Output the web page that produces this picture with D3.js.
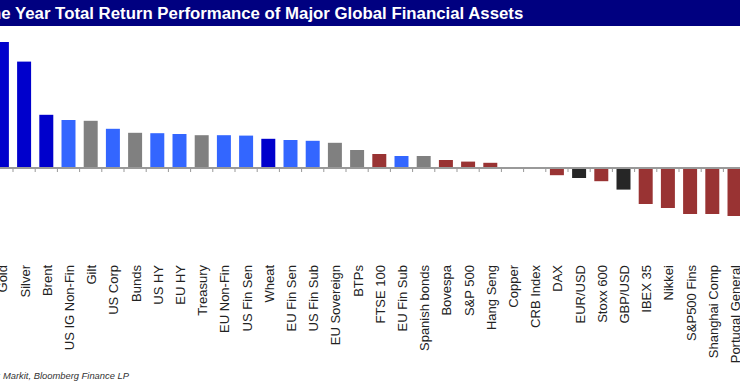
<!DOCTYPE html>
<html>
<head>
<meta charset="utf-8">
<title>One Year Total Return Performance</title>
<script src="https://d3js.org/d3.v7.min.js"></script>
<style>
  body { margin: 0; background: #fff; }
  svg { display: block; font-family: "Liberation Sans", Arial, sans-serif; }
</style>
</head>
<body>
<div id="chart"></div>
<script>
// asset names, left to right
var assets = ["Gold", "Silver", "Brent", "US IG Non-Fin", "Gilt", "US Corp", "Bunds", "US HY",
  "EU HY", "Treasury", "EU Non-Fin", "US Fin Sen", "Wheat", "EU Fin Sen", "US Fin Sub",
  "EU Sovereign", "BTPs", "FTSE 100", "EU Fin Sub", "Spanish bonds", "Bovespa", "S&P 500",
  "Hang Seng", "Copper", "CRB Index", "DAX", "EUR/USD", "Stoxx 600", "GBP/USD", "IBEX 35",
  "Nikkei", "S&P500 Fins", "Shanghai Comp", "Portugal General"];

// one year total return, %
var returns = [31.5, 26.6, 13.3, 12.0, 11.8, 9.8, 8.8, 8.7,
  8.5, 8.2, 8.2, 8.1, 7.3, 7.0, 6.8,
  6.3, 4.5, 3.5, 3.0, 3.0, 2.0, 1.6,
  1.3, 0.0, -0.2, -1.8, -2.5, -3.3, -5.4, -9.0,
  -10.0, -11.5, -11.5, -12.0];

// asset class of each bar -> colour
var groups = ["commod", "commod", "commod", "credit", "govt", "credit", "govt", "credit",
  "credit", "govt", "credit", "credit", "commod", "credit", "credit",
  "govt", "govt", "equity", "credit", "govt", "equity", "equity",
  "equity", "commod", "govt", "equity", "fx", "equity", "fx", "equity",
  "equity", "equity", "equity", "equity"];

var colours = { commod: "#0000cc", credit: "#3366ff", govt: "#808080", equity: "#993333", fx: "#262626" };

var W = 740, H = 389;

var svg = d3.select("#chart").append("svg")
  .attr("width", W)
  .attr("height", H);

// title bar (the picture is cropped on the left, so the title starts off-canvas)
svg.append("rect")
  .attr("x", 0).attr("y", 0)
  .attr("width", W).attr("height", 26)
  .attr("fill", "#000080");
svg.append("text")
  .attr("x", -22).attr("y", 19)
  .attr("fill", "#fff")
  .attr("font-size", 16.8)
  .attr("font-weight", "bold")
  .text("One Year Total Return Performance of Major Global Financial Assets");

var data = assets.map(function(a, i) { return { name: a, value: returns[i], group: groups[i] }; });

var x = d3.scaleBand()
  .domain(assets)
  .range([-9.2, 745.6])
  .paddingInner(0.37)
  .paddingOuter(0.185);

var y = d3.scaleLinear()
  .domain([-15, 35])
  .range([228, 28]);

// bars
svg.selectAll(".bar")
  .data(data)
  .enter().append("rect")
  .attr("class", "bar")
  .attr("x", function(d) { return x(d.name); })
  .attr("width", x.bandwidth())
  .attr("y", function(d) { return Math.min(y(d.value), y(0)); })
  .attr("height", function(d) { return Math.abs(y(d.value) - y(0)); })
  .attr("fill", function(d) { return colours[d.group]; });

// zero line with small ticks between categories
svg.append("line")
  .attr("x1", 0).attr("x2", W)
  .attr("y1", y(0)).attr("y2", y(0))
  .attr("stroke", "#999")
  .attr("stroke-width", 2);

svg.selectAll(".tick")
  .data(assets.slice(0, -1))
  .enter().append("line")
  .attr("class", "tick")
  .attr("x1", function(d) { return x(d) + x.bandwidth() + (x.step() - x.bandwidth()) / 2; })
  .attr("x2", function(d) { return x(d) + x.bandwidth() + (x.step() - x.bandwidth()) / 2; })
  .attr("y1", y(0))
  .attr("y2", y(0) + 4)
  .attr("stroke", "#999")
  .attr("stroke-width", 1);

// rotated category labels
svg.selectAll(".label")
  .data(assets)
  .enter().append("text")
  .attr("class", "label")
  .attr("transform", function(d) { return "translate(" + (x(d) + x.bandwidth() / 2 + 1) + ",265) rotate(-90)"; })
  .attr("text-anchor", "end")
  .attr("dy", "0.35em")
  .attr("font-size", 13)
  .attr("fill", "#222")
  .text(function(d) { return d; });

// source note
svg.append("text")
  .attr("x", -32).attr("y", 379)
  .attr("font-size", 9.4)
  .attr("font-style", "italic")
  .attr("fill", "#333")
  .text("Source: Markit, Bloomberg Finance LP");
</script>
</body>
</html>
